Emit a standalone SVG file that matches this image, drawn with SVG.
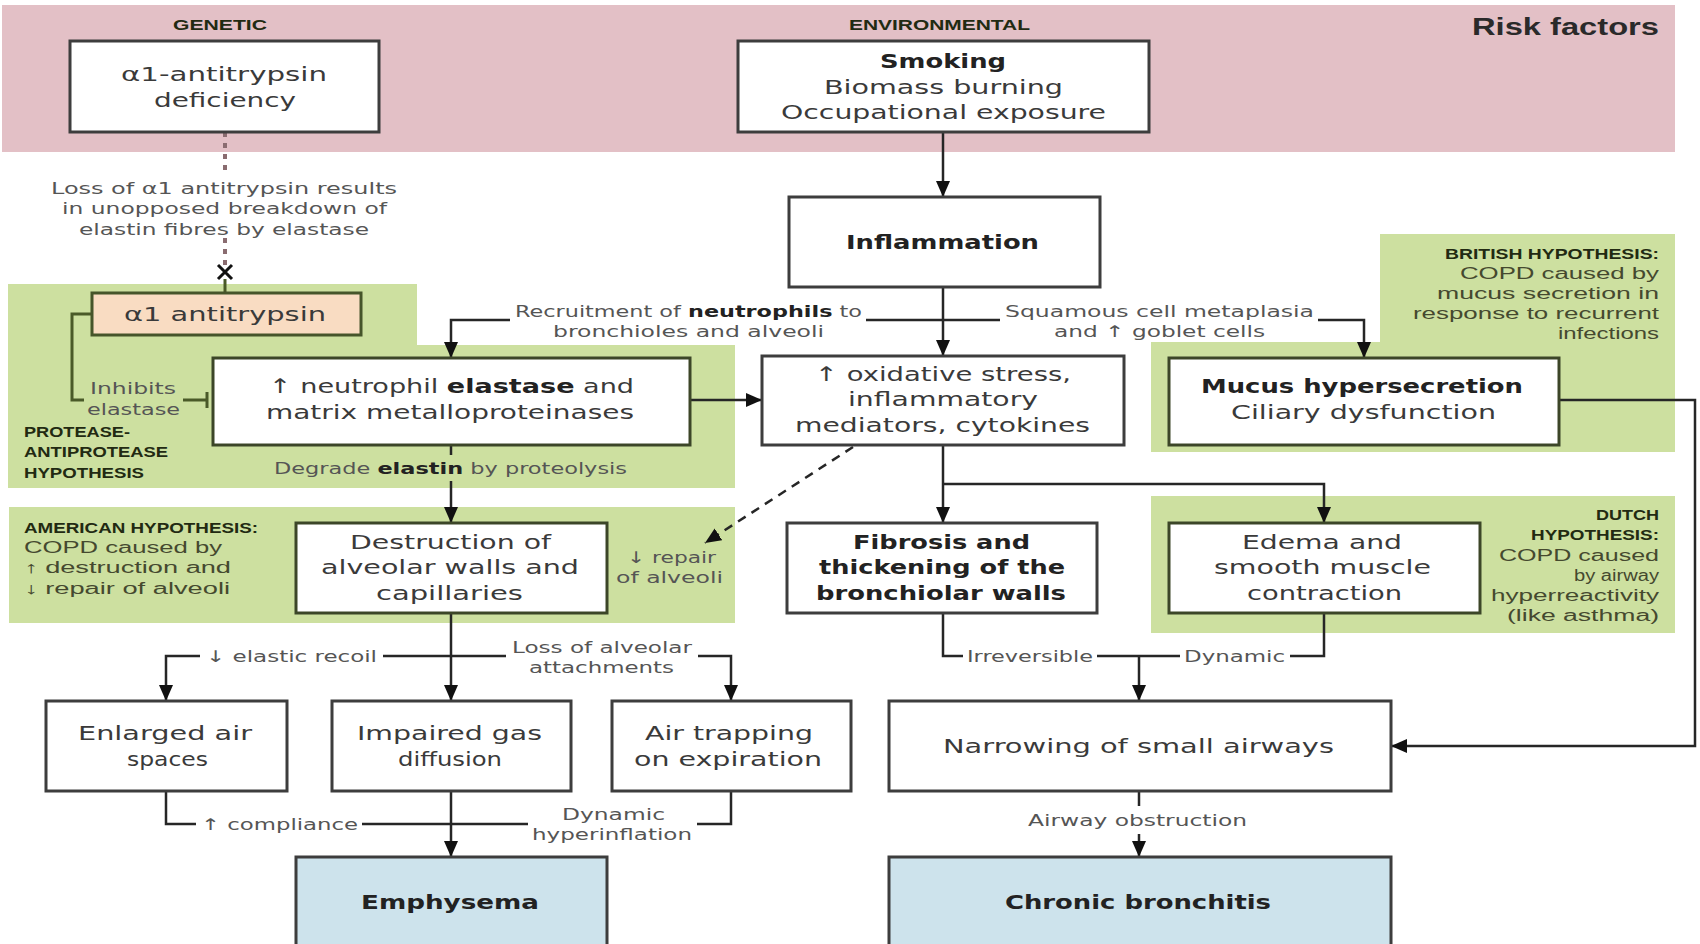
<svg xmlns="http://www.w3.org/2000/svg" width="1700" height="944" viewBox="0 0 1700 944">
<defs>
<style>
.bx{fill:#fff;stroke:#3d3d3d;stroke-width:3}
.gb{fill:#fff;stroke:#3c4628;stroke-width:3}
.pk{fill:#f9dcc2;stroke:#46552a;stroke-width:3}
.bl{fill:#cde3ec;stroke:#3d3d3d;stroke-width:3}
.t{font-family:"DejaVu Sans",sans-serif;font-size:20px;fill:#3a3a3a;dominant-baseline:central}
.tb{font-family:"DejaVu Sans",sans-serif;font-size:20px;font-weight:bold;fill:#222;dominant-baseline:central}
.a{font-family:"DejaVu Sans",sans-serif;font-size:16px;fill:#555;dominant-baseline:central}
.h{font-family:"Liberation Sans",sans-serif;font-size:15px;font-weight:bold;fill:#222a12;dominant-baseline:central}
.hb{font-family:"Liberation Sans",sans-serif;font-size:16px;fill:#45492f;dominant-baseline:central}
.c{fill:none;stroke:#262626;stroke-width:2.5}
.ca{fill:none;stroke:#262626;stroke-width:2.5;marker-end:url(#arr)}
.g{fill:none;stroke:#4a5a28;stroke-width:3}
</style>
<marker id="arr" viewBox="0 0 16 14" refX="16" refY="7" markerWidth="16" markerHeight="14" markerUnits="userSpaceOnUse" orient="auto">
<path d="M0,0 L16,7 L0,14 z" fill="#111"/>
</marker>
</defs>
<rect width="1700" height="944" fill="#fff"/>
<!-- backgrounds -->
<g id="regions">
<rect x="2" y="5" width="1673" height="147" fill="#e3c0c6"/>
<path d="M8,284 H417 V345 H735 V488 H8 Z" fill="#cde0a0"/>
<rect x="9" y="507" width="726" height="116" fill="#cde0a0"/>
<path d="M1380,234 H1675 V452 H1151 V342 H1380 Z" fill="#cde0a0"/>
<rect x="1151" y="496" width="524" height="137" fill="#cde0a0"/>
</g>
<g id="headers">
<text class="h" x="173" y="24" textLength="94" lengthAdjust="spacingAndGlyphs">GENETIC</text>
<text class="h" x="849" y="24" textLength="181" lengthAdjust="spacingAndGlyphs">ENVIRONMENTAL</text>
<text x="1472" y="27" textLength="187" lengthAdjust="spacingAndGlyphs" style="font-family:'Liberation Sans',sans-serif;font-size:23px;font-weight:bold;fill:#2a2a2a;dominant-baseline:central">Risk factors</text>
</g>
<!-- connectors -->
<g id="connectors">
<path class="ca" d="M943,132 V197"/>
<path class="ca" d="M943,287 V356"/>
<path class="c" d="M943,320 H866"/>
<path class="ca" d="M510,320 H451 V358"/>
<path class="c" d="M943,320 H1000"/>
<path class="ca" d="M1318,320 H1364 V358"/>
<path class="ca" d="M690,400 H762"/>
<path class="c" d="M451,445 V455"/>
<path class="ca" d="M451,481 V523"/>
<path class="ca" d="M943,445 V523"/>
<path class="ca" d="M943,484 H1324 V523"/>
<path class="ca" d="M853,447 L705,543" style="stroke-dasharray:9,7"/>
<path class="ca" d="M1559,400 H1695 V746 H1391"/>
<path class="ca" d="M451,613 V701"/>
<path class="c" d="M451,656 H383"/>
<path class="ca" d="M200,656 H166 V701"/>
<path class="c" d="M451,656 H506"/>
<path class="ca" d="M698,656 H731 V701"/>
<path class="c" d="M166,791 V824 H196"/>
<path class="c" d="M362,824 H451"/>
<path class="c" d="M731,791 V824 H697"/>
<path class="c" d="M528,824 H451"/>
<path class="ca" d="M451,791 V857"/>
<path class="c" d="M943,613 V656 H963"/>
<path class="c" d="M1097,656 H1139"/>
<path class="c" d="M1324,613 V656 H1290"/>
<path class="c" d="M1180,656 H1139"/>
<path class="ca" d="M1139,656 V701"/>
<path class="c" d="M1139,791 V806"/>
<path class="ca" d="M1139,834 V857"/>
<path d="M225,132 V176 M225,238 V266" fill="none" stroke="#8a6c70" stroke-width="4" stroke-dasharray="5,6"/>
<path d="M218,265 L232,279 M232,265 L218,279" stroke="#111" stroke-width="3"/>
<path class="g" d="M225,279 V293"/>
<path class="g" d="M92,314 H72 V400 H84"/>
<path class="g" d="M183,400 H207 M207,392 V408"/>
</g>
<!-- nodes -->
<g id="genetic">
<rect class="bx" x="70" y="41" width="309" height="91"/>
<text class="t" x="121" y="74" textLength="206" lengthAdjust="spacingAndGlyphs">α1-antitrypsin</text>
<text class="t" x="154" y="100" textLength="142" lengthAdjust="spacingAndGlyphs">deficiency</text>
</g>
<g id="environmental">
<rect class="bx" x="738" y="41" width="411" height="91"/>
<text class="tb" x="880" y="61" textLength="126" lengthAdjust="spacingAndGlyphs">Smoking</text>
<text class="t" x="824" y="87" textLength="239" lengthAdjust="spacingAndGlyphs">Biomass burning</text>
<text class="t" x="781" y="112" textLength="325" lengthAdjust="spacingAndGlyphs">Occupational exposure</text>
</g>
<g id="loss-label">
<text class="a" x="51" y="188" textLength="346" lengthAdjust="spacingAndGlyphs">Loss of α1 antitrypsin results</text>
<text class="a" x="62" y="208" textLength="325" lengthAdjust="spacingAndGlyphs">in unopposed breakdown of</text>
<text class="a" x="79" y="229" textLength="290" lengthAdjust="spacingAndGlyphs">elastin fibres by elastase</text>
</g>
<g id="inflammation">
<rect class="bx" x="789" y="197" width="311" height="90"/>
<text class="tb" x="846" y="242" textLength="193" lengthAdjust="spacingAndGlyphs">Inflammation</text>
</g>
<g id="antitrypsin">
<rect class="pk" x="92" y="293" width="269" height="42"/>
<text class="t" x="124" y="314" textLength="202" lengthAdjust="spacingAndGlyphs">α1 antitrypsin</text>
</g>
<g id="labels-top">
<text class="a" x="515" y="311" textLength="347" lengthAdjust="spacingAndGlyphs">Recruitment of <tspan font-weight="bold" fill="#222">neutrophils</tspan> to</text>
<text class="a" x="553" y="331" textLength="271" lengthAdjust="spacingAndGlyphs">bronchioles and alveoli</text>
<text class="a" x="1005" y="311" textLength="309" lengthAdjust="spacingAndGlyphs">Squamous cell metaplasia</text>
<text class="a" x="1054" y="331" textLength="211" lengthAdjust="spacingAndGlyphs">and ↑ goblet cells</text>
<text class="a" x="90" y="388" textLength="86" lengthAdjust="spacingAndGlyphs">Inhibits</text>
<text class="a" x="87" y="409" textLength="93" lengthAdjust="spacingAndGlyphs">elastase</text>
</g>
<g id="british">
<text class="h" x="1445" y="253" textLength="214" lengthAdjust="spacingAndGlyphs">BRITISH HYPOTHESIS:</text>
<text class="hb" x="1460" y="273" textLength="199" lengthAdjust="spacingAndGlyphs">COPD caused by</text>
<text class="hb" x="1437" y="293" textLength="222" lengthAdjust="spacingAndGlyphs">mucus secretion in</text>
<text class="hb" x="1413" y="313" textLength="246" lengthAdjust="spacingAndGlyphs">response to recurrent</text>
<text class="hb" x="1558" y="333" textLength="101" lengthAdjust="spacingAndGlyphs">infections</text>
</g>
<g id="neutrophil">
<rect class="gb" x="213" y="358" width="477" height="87"/>
<text class="t" x="269" y="386" textLength="365" lengthAdjust="spacingAndGlyphs">↑ neutrophil <tspan font-weight="bold" fill="#222">elastase</tspan> and</text>
<text class="t" x="266" y="412" textLength="368" lengthAdjust="spacingAndGlyphs">matrix metalloproteinases</text>
</g>
<g id="oxidative">
<rect class="bx" x="762" y="356" width="362" height="89"/>
<text class="t" x="815" y="374" textLength="256" lengthAdjust="spacingAndGlyphs">↑ oxidative stress,</text>
<text class="t" x="848" y="399" textLength="190" lengthAdjust="spacingAndGlyphs">inflammatory</text>
<text class="t" x="795" y="425" textLength="295" lengthAdjust="spacingAndGlyphs">mediators, cytokines</text>
</g>
<g id="mucus">
<rect class="gb" x="1169" y="358" width="390" height="87"/>
<text class="tb" x="1201" y="386" textLength="322" lengthAdjust="spacingAndGlyphs">Mucus hypersecretion</text>
<text class="t" x="1231" y="412" textLength="265" lengthAdjust="spacingAndGlyphs">Ciliary dysfunction</text>
</g>
<g id="protease">
<text class="h" x="24" y="431" textLength="106" lengthAdjust="spacingAndGlyphs">PROTEASE-</text>
<text class="h" x="24" y="451" textLength="144" lengthAdjust="spacingAndGlyphs">ANTIPROTEASE</text>
<text class="h" x="24" y="472" textLength="120" lengthAdjust="spacingAndGlyphs">HYPOTHESIS</text>
<text class="a" x="274" y="468" textLength="353" lengthAdjust="spacingAndGlyphs">Degrade <tspan font-weight="bold" fill="#222">elastin</tspan> by proteolysis</text>
</g>
<g id="american">
<text class="h" x="24" y="527" textLength="234" lengthAdjust="spacingAndGlyphs">AMERICAN HYPOTHESIS:</text>
<text class="hb" x="24" y="547" textLength="198" lengthAdjust="spacingAndGlyphs">COPD caused by</text>
<text class="hb" x="24" y="567" textLength="207" lengthAdjust="spacingAndGlyphs">↑ destruction and</text>
<text class="hb" x="24" y="588" textLength="206" lengthAdjust="spacingAndGlyphs">↓ repair of alveoli</text>
</g>
<g id="destruction">
<rect class="gb" x="296" y="523" width="311" height="90"/>
<text class="t" x="350" y="542" textLength="201" lengthAdjust="spacingAndGlyphs">Destruction of</text>
<text class="t" x="321" y="567" textLength="258" lengthAdjust="spacingAndGlyphs">alveolar walls and</text>
<text class="t" x="376" y="593" textLength="147" lengthAdjust="spacingAndGlyphs">capillaries</text>
<text class="a" x="627" y="557" textLength="89" lengthAdjust="spacingAndGlyphs">↓ repair</text>
<text class="a" x="616" y="577" textLength="107" lengthAdjust="spacingAndGlyphs">of alveoli</text>
</g>
<g id="fibrosis">
<rect class="bx" x="787" y="523" width="310" height="90"/>
<text class="tb" x="853" y="542" textLength="177" lengthAdjust="spacingAndGlyphs">Fibrosis and</text>
<text class="tb" x="819" y="567" textLength="246" lengthAdjust="spacingAndGlyphs">thickening of the</text>
<text class="tb" x="816" y="593" textLength="250" lengthAdjust="spacingAndGlyphs">bronchiolar walls</text>
</g>
<g id="edema">
<rect class="gb" x="1169" y="523" width="311" height="90"/>
<text class="t" x="1242" y="542" textLength="160" lengthAdjust="spacingAndGlyphs">Edema and</text>
<text class="t" x="1214" y="567" textLength="217" lengthAdjust="spacingAndGlyphs">smooth muscle</text>
<text class="t" x="1247" y="593" textLength="155" lengthAdjust="spacingAndGlyphs">contraction</text>
</g>
<g id="dutch">
<text class="h" x="1596" y="514" textLength="63" lengthAdjust="spacingAndGlyphs">DUTCH</text>
<text class="h" x="1531" y="534" textLength="128" lengthAdjust="spacingAndGlyphs">HYPOTHESIS:</text>
<text class="hb" x="1499" y="555" textLength="160" lengthAdjust="spacingAndGlyphs">COPD caused</text>
<text class="hb" x="1574" y="575" textLength="85" lengthAdjust="spacingAndGlyphs">by airway</text>
<text class="hb" x="1491" y="595" textLength="168" lengthAdjust="spacingAndGlyphs">hyperreactivity</text>
<text class="hb" x="1507" y="615" textLength="152" lengthAdjust="spacingAndGlyphs">(like asthma)</text>
</g>
<g id="labels-mid">
<text class="a" x="206" y="656" textLength="171" lengthAdjust="spacingAndGlyphs">↓ elastic recoil</text>
<text class="a" x="512" y="647" textLength="180" lengthAdjust="spacingAndGlyphs">Loss of alveolar</text>
<text class="a" x="529" y="667" textLength="145" lengthAdjust="spacingAndGlyphs">attachments</text>
<text class="a" x="967" y="656" textLength="126" lengthAdjust="spacingAndGlyphs">Irreversible</text>
<text class="a" x="1184" y="656" textLength="101" lengthAdjust="spacingAndGlyphs">Dynamic</text>
</g>
<g id="enlarged">
<rect class="bx" x="46" y="701" width="241" height="90"/>
<text class="t" x="78" y="733" textLength="174" lengthAdjust="spacingAndGlyphs">Enlarged air</text>
<text class="t" x="127" y="759" textLength="81" lengthAdjust="spacingAndGlyphs">spaces</text>
</g>
<g id="impaired">
<rect class="bx" x="332" y="701" width="239" height="90"/>
<text class="t" x="357" y="733" textLength="185" lengthAdjust="spacingAndGlyphs">Impaired gas</text>
<text class="t" x="398" y="759" textLength="104" lengthAdjust="spacingAndGlyphs">diffusion</text>
</g>
<g id="airtrapping">
<rect class="bx" x="612" y="701" width="239" height="90"/>
<text class="t" x="645" y="733" textLength="168" lengthAdjust="spacingAndGlyphs">Air trapping</text>
<text class="t" x="634" y="759" textLength="188" lengthAdjust="spacingAndGlyphs">on expiration</text>
</g>
<g id="narrowing">
<rect class="bx" x="889" y="701" width="502" height="90"/>
<text class="t" x="943" y="746" textLength="391" lengthAdjust="spacingAndGlyphs">Narrowing of small airways</text>
</g>
<g id="labels-bottom">
<text class="a" x="201" y="824" textLength="157" lengthAdjust="spacingAndGlyphs">↑ compliance</text>
<text class="a" x="562" y="814" textLength="103" lengthAdjust="spacingAndGlyphs">Dynamic</text>
<text class="a" x="532" y="834" textLength="160" lengthAdjust="spacingAndGlyphs">hyperinflation</text>
<text class="a" x="1028" y="820" textLength="219" lengthAdjust="spacingAndGlyphs">Airway obstruction</text>
</g>
<g id="emphysema">
<rect class="bl" x="296" y="857" width="311" height="100"/>
<text class="tb" x="361" y="902" textLength="178" lengthAdjust="spacingAndGlyphs">Emphysema</text>
</g>
<g id="chronic-bronchitis">
<rect class="bl" x="889" y="857" width="502" height="100"/>
<text class="tb" x="1005" y="902" textLength="266" lengthAdjust="spacingAndGlyphs">Chronic bronchitis</text>
</g>
</svg>
